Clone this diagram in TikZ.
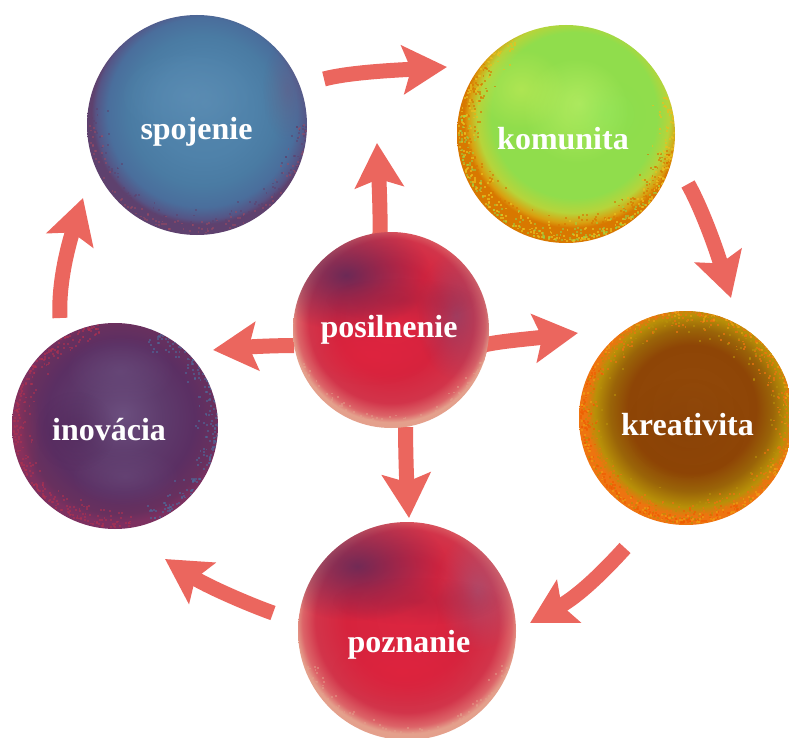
\documentclass[tikz,border=0pt]{standalone}
\usepackage{fontspec}
\setmainfont{Liberation Serif}
\usetikzlibrary{arrows.meta,fadings,backgrounds}

\definecolor{arrowc}{HTML}{EB665E}
% spojenie
\definecolor{spA}{HTML}{5587AE}
\definecolor{spAB}{HTML}{4F82AA}
\definecolor{spB}{HTML}{4A7BA3}
\definecolor{spC}{HTML}{4A6E9C}
\definecolor{spCD}{HTML}{555586}
\definecolor{spD}{HTML}{5E416E}
\definecolor{spL}{HTML}{6A9AC0}
\definecolor{spR}{HTML}{A04A62}
\pgfdeclareradialshading{spshade}{\pgfpoint{2bp}{5bp}}{color(0bp)=(spA);color(11bp)=(spAB);color(17bp)=(spB);color(21.5bp)=(spC);color(24bp)=(spCD);color(25bp)=(spD);color(50bp)=(spD)}
% komunita
\definecolor{koA}{HTML}{B0EA5E}
\definecolor{koB}{HTML}{90DD4C}
\definecolor{koC}{HTML}{B7D43A}
\definecolor{koD}{HTML}{D9A010}
\definecolor{koE}{HTML}{D87800}
\definecolor{koY}{HTML}{CDEE5A}
\definecolor{koG}{HTML}{86E65E}
\definecolor{koS}{HTML}{E8C020}
\pgfdeclareradialshading{koshade}{\pgfpoint{3bp}{7bp}}{color(0bp)=(koA);color(12bp)=(koB);color(19bp)=(koB);color(22bp)=(koC);color(24bp)=(koD);color(25bp)=(koE);color(50bp)=(koE)}
% kreativita
\definecolor{krA}{HTML}{92490A}
\definecolor{krB}{HTML}{8E4506}
\definecolor{krC}{HTML}{9A6408}
\definecolor{krD}{HTML}{B89008}
\definecolor{krE}{HTML}{EE7410}
\definecolor{krK}{HTML}{7E3A04}
\definecolor{krR}{HTML}{F05A00}
\definecolor{krY}{HTML}{F0A010}
\pgfdeclareradialshading{krshade}{\pgfpoint{2bp}{3bp}}{color(0bp)=(krA);color(15bp)=(krB);color(19bp)=(krC);color(22.5bp)=(krD);color(24.5bp)=(krE);color(50bp)=(krE)}
% inovacia
\definecolor{inA}{HTML}{6B4E7E}
\definecolor{inB}{HTML}{5E3B6C}
\definecolor{inC}{HTML}{5B2F63}
\definecolor{inD}{HTML}{68305E}
\definecolor{inE}{HTML}{B03050}
\definecolor{inF}{HTML}{7C3060}
\definecolor{inK}{HTML}{4E2256}
\definecolor{inBl}{HTML}{4E6A9A}
\pgfdeclareradialshading{inshade}{\pgfpoint{2bp}{3bp}}{color(0bp)=(inA);color(10bp)=(inB);color(18bp)=(inC);color(23bp)=(inD);color(25bp)=(inF);color(50bp)=(inF)}
% posilnenie / poznanie
\definecolor{poA}{HTML}{DD2640}
\definecolor{poB}{HTML}{D6233D}
\definecolor{poC}{HTML}{D2344A}
\definecolor{poD}{HTML}{DC6468}
\definecolor{poE}{HTML}{E4A08C}
\pgfdeclareradialshading{poshade}{\pgfpoint{0bp}{4bp}}{color(0bp)=(poA);color(14bp)=(poB);color(21bp)=(poC);color(24bp)=(poD);color(25.5bp)=(poE);color(50bp)=(poE)}

\definecolor{plum}{HTML}{5A2A5A}
\definecolor{mauve}{HTML}{86466E}
\definecolor{mauveL}{HTML}{9A5C80}
\definecolor{dcrim}{HTML}{A0203F}
\definecolor{bcrim}{HTML}{E2233E}

\tikzfading[name=softblob, inner color=transparent!0, outer color=transparent!100]

\newcommand{\myblob}[5]{\fill[#1, path fading=softblob] (#2) ++(#3) ellipse (#4 and #5);}
\newcommand{\myspeck}[7]{%
  \foreach \k in {1,...,#4}{%
    \pgfmathsetmacro{\aa}{#5+rnd*(#6-#5)}%
    \pgfmathsetmacro{\rr}{#2-1-#7*#2*rnd*rnd}%
    \fill[#3] (#1) ++(\aa:\rr pt) rectangle ++(1.9pt,1.9pt);
  }}

\begin{document}
\begin{tikzpicture}[x=1pt,y=-1pt,
  flow/.style={draw=arrowc, line width=15pt, -{Stealth[length=44pt,width=48pt,inset=8pt]}},
  ball/.style={circle, inner sep=0pt, outer sep=0pt, shade, draw=none},
  lbl/.style={text=white, font=\bfseries\fontsize{32}{36}\selectfont, anchor=base, inner sep=0pt}]
\pgfmathsetseed{42}
\useasboundingbox (0,0) rectangle (789,738);

% circles
\node[ball, shading=spshade, minimum size=220pt] (spo) at (197,125) {};
\node[ball, shading=koshade, minimum size=218pt] (kom) at (566,134) {};
\node[ball, shading=poshade, minimum size=196pt] (pos) at (391,330) {};
\node[ball, shading=krshade, minimum size=214pt] (kre) at (686,418) {};
\node[ball, shading=inshade, minimum size=206pt] (ino) at (115,426) {};
\node[ball, shading=poshade, minimum size=218pt] (poz) at (407,631) {};

% textures
\begin{scope}
  \clip (spo) circle (110pt);
  \myblob{fill=spL, fill opacity=.3}{spo}{-10pt,30pt}{70pt}{45pt}
  \myblob{fill=mauve, fill opacity=.25}{spo}{90pt,35pt}{25pt}{50pt}
  \myspeck{spo}{110}{fill=spD, opacity=.55}{220}{170}{360}{0.22}
  \myspeck{spo}{110}{fill=spR, opacity=.5}{110}{180}{360}{0.15}
\end{scope}
\begin{scope}
  \clip (kom) circle (109pt);
  \myblob{fill=koY, fill opacity=.5}{kom}{-45pt,45pt}{45pt}{40pt}
  \myblob{fill=koG, fill opacity=.35}{kom}{40pt,20pt}{40pt}{35pt}
  \myspeck{kom}{109}{fill=koE, opacity=.65}{450}{140}{350}{0.25}
  \myspeck{kom}{109}{fill=koS, opacity=.7}{350}{120}{380}{0.2}
  \myspeck{kom}{109}{fill=koB, opacity=.5}{150}{170}{330}{0.18}
\end{scope}
\begin{scope}
  \clip (kre) circle (107pt);
  \myblob{fill=krK, fill opacity=.3}{kre}{0pt,-10pt}{60pt}{50pt}
  \myspeck{kre}{107}{fill=krE, opacity=.7}{600}{0}{360}{0.22}
  \myspeck{kre}{107}{fill=krD, opacity=.6}{300}{0}{360}{0.3}
  \myspeck{kre}{107}{fill=krR, opacity=.6}{200}{150}{300}{0.15}
  \myspeck{kre}{107}{fill=krY, opacity=.6}{200}{0}{360}{0.1}
\end{scope}
\begin{scope}
  \clip (ino) circle (103pt);
  \myblob{fill=inA, fill opacity=.6}{ino}{5pt,55pt}{55pt}{35pt}
  \myblob{fill=inA, fill opacity=.5}{ino}{10pt,-50pt}{55pt}{30pt}
  \myblob{fill=inK, fill opacity=.45}{ino}{-40pt,-5pt}{40pt}{40pt}
  \myblob{fill=inE, fill opacity=.35}{ino}{-100pt,-10pt}{25pt}{80pt}
  \myspeck{ino}{103}{fill=inE, opacity=.6}{300}{100}{280}{0.2}
  \myspeck{ino}{103}{fill=inBl, opacity=.6}{200}{-70}{70}{0.22}
\end{scope}
\begin{scope}
  \clip (pos) circle (98pt);
  \myblob{fill=plum, fill opacity=.85}{pos}{-45pt,55pt}{85pt}{55pt}
  \myblob{fill=mauve, fill opacity=.65}{pos}{65pt,15pt}{40pt}{65pt}
  \myblob{fill=dcrim, fill opacity=.5}{pos}{10pt,30pt}{75pt}{22pt}
  \myblob{fill=bcrim, fill opacity=.6}{pos}{-20pt,-25pt}{60pt}{30pt}
  \myspeck{pos}{98}{fill=poE, opacity=.5}{120}{200}{340}{0.12}
\end{scope}
\begin{scope}
  \clip (poz) circle (109pt);
  \myblob{fill=plum, fill opacity=.8}{poz}{-50pt,65pt}{90pt}{55pt}
  \myblob{fill=mauveL, fill opacity=.6}{poz}{70pt,40pt}{42pt}{60pt}
  \myblob{fill=dcrim, fill opacity=.45}{poz}{10pt,30pt}{85pt}{24pt}
  \myblob{fill=bcrim, fill opacity=.6}{poz}{-5pt,-40pt}{70pt}{35pt}
  \myspeck{poz}{109}{fill=poE, opacity=.5}{120}{200}{340}{0.12}
\end{scope}

% labels
\node[lbl] (t-spo) at (196.5,140) {spojenie};
\node[lbl] (t-kom) at (563,150) {komunita};
\node[lbl] (t-pos) at (389,337) {posilnenie};
\node[lbl] (t-kre) at (687.5,435) {kreativita};
\node[lbl] (t-ino) at (109,440) {inovácia};
\node[lbl] (t-poz) at (409,652) {poznanie};

% arrows
\begin{pgfonlayer}{background}
  \fill[white] (0,0) rectangle (789,738);
  \coordinate (a1s) at (324,79);  \coordinate (a1e) at (447,67);
  \coordinate (a2s) at (688,184); \coordinate (a2e) at (731,298);
  \coordinate (a9s) at (625,548); \coordinate (a9e) at (530,623);
  \coordinate (a8s) at (273,613); \coordinate (a8e) at (165,559);
  \coordinate (a7s) at (60,318);  \coordinate (a7e) at (83,198);
  \coordinate (c-up) at (377,143);
  \coordinate (c-le) at (213,350);
  \coordinate (c-ri) at (578,333);
  \coordinate (c-do) at (409,518);
  \draw[flow] (a1s) .. controls (350,72) and (400,70) .. (a1e);
  \draw[flow] (a2s) .. controls (700,205) and (715,245) .. (a2e);
  \draw[flow] (a9s) .. controls (605,570) and (580,595) .. (a9e);
  \draw[flow] (a8s) .. controls (245,603) and (205,585) .. (a8e);
  \draw[flow] (a7s) .. controls (58,280) and (70,240) .. (a7e);
  \draw[flow] (pos) .. controls (381,250) and (380,200) .. (c-up);
  \draw[flow] (pos) .. controls (300,345) and (260,346) .. (c-le);
  \draw[flow] (pos) .. controls (450,345) and (520,340) .. (c-ri);
  \draw[flow] (pos) .. controls (405,420) and (406,470) .. (c-do);
\end{pgfonlayer}
\end{tikzpicture}
\end{document}
